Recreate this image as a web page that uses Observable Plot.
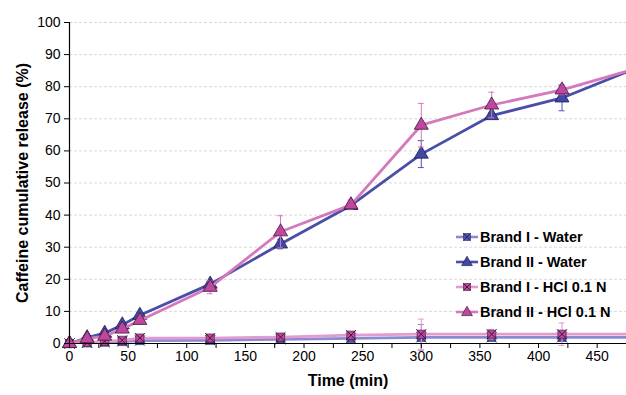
<!DOCTYPE html>
<html>
<head>
<meta charset="utf-8">
<script src="https://cdn.jsdelivr.net/npm/d3@7"></script>
<script src="https://cdn.jsdelivr.net/npm/@observablehq/plot@0.6"></script>
<style>
  html, body { margin: 0; padding: 0; background: #fff; }
  #chart svg { display: block; }
</style>
</head>
<body>
<div id="chart"></div>
<script>
const times = [0, 15, 30, 45, 60, 120, 180, 240, 300, 360, 420, 480];
const seriesNames = ["Brand I - Water", "Brand II - Water", "Brand I - HCl 0.1 N", "Brand II - HCl 0.1 N"];
const brand1Water = [0, 0.2, 0.4, 0.6, 0.9, 1.0, 1.3, 1.6, 1.9, 1.9, 1.9, 1.9];
const brand1WaterSd = [0, 0.1, 0.2, 0.2, 0.3, 0.3, 0.5, 0.7, 4.0, 1.0, 1.0, 0];
const brand2Water = [0, 1.8, 3.2, 5.8, 8.8, 18.5, 31, 43, 59, 71, 76.5, 85.3];
const brand2WaterSd = [0, 0.3, 0.5, 0.5, 0.8, 1.0, 1.5, 1.0, 4.2, 0.8, 4.0, 0];
const brand1Hcl = [0, 0.3, 0.7, 1.0, 1.7, 1.7, 2.0, 2.6, 2.9, 2.9, 2.9, 2.9];
const brand1HclSd = [0, 0.2, 0.3, 0.3, 0.4, 0.4, 1.0, 0.8, 4.7, 1.5, 3.5, 0];
const brand2Hcl = [0, 1.5, 2.3, 4.5, 7.2, 17.5, 34.8, 43.2, 68, 74.3, 79, 85.3];
const brand2HclSd = [0, 0.3, 0.5, 1.0, 0.8, 2.0, 5.0, 1.5, 6.8, 4.0, 1.5, 0];

const xTicks = d3.range(0, 476, 25);
const yTicks = d3.range(0, 101, 10);

const styles = [
  {line: "#8a8ad2", fill: "#4f55b0", stroke: "#2a2a60", mark: "x"},
  {line: "#4a4ea8", fill: "#4048a6", stroke: "#202050", mark: "tri"},
  {line: "#e39ad0", fill: "#c0479f", stroke: "#401838", mark: "x"},
  {line: "#d479bb", fill: "#c0479f", stroke: "#401838", mark: "tri"}
];
const values = [brand1Water, brand2Water, brand1Hcl, brand2Hcl];
const sds = [brand1WaterSd, brand2WaterSd, brand1HclSd, brand2HclSd];

const rows = [];
seriesNames.forEach((s, i) => {
  times.forEach((t, j) => rows.push({series: s, idx: i, t, v: values[i][j], sd: sds[i][j]}));
});

const marks = [
  Plot.gridY(yTicks.filter(d => d > 0), {stroke: "#d9d9d9", strokeOpacity: 1, strokeDasharray: "3,2"})
];
seriesNames.forEach((s, i) => {
  const d = rows.filter(r => r.idx === i);
  const st = styles[i];
  const eb = d.filter(r => r.sd > 0 && r.t <= 475);
  marks.push(Plot.ruleX(eb, {x: "t", y1: r => r.v - r.sd, y2: r => r.v + r.sd, stroke: st.line, strokeWidth: 1}));
  marks.push(Plot.ruleY(eb, {y: r => r.v + r.sd, x1: r => r.t - 2.5, x2: r => r.t + 2.5, stroke: st.line, strokeWidth: 1}));
  marks.push(Plot.ruleY(eb, {y: r => r.v - r.sd, x1: r => r.t - 2.5, x2: r => r.t + 2.5, stroke: st.line, strokeWidth: 1}));
  marks.push(Plot.line(d, {x: "t", y: "v", stroke: st.line, strokeWidth: 2.8, clip: true}));
  const pts = d.filter(r => r.t <= 475);
  if (st.mark === "tri") {
    marks.push(Plot.dot(pts, {x: "t", y: "v", symbol: "triangle", r: 5.2, fill: st.fill, stroke: st.stroke, strokeWidth: 0.8}));
  } else {
    marks.push(Plot.dot(pts, {x: "t", y: "v", symbol: "square", r: 4.6, fill: st.fill, stroke: st.stroke, strokeWidth: 0.6}));
    marks.push(Plot.dot(pts, {x: "t", y: "v", symbol: "times", r: 4.6, fill: "none", stroke: st.stroke, strokeWidth: 1}));
  }
});
marks.push(
  Plot.ruleX([0], {stroke: "#000", strokeWidth: 1.2}),
  Plot.ruleY([0], {stroke: "#000", strokeWidth: 1.2}),
  Plot.axisY({ticks: yTicks, tickSize: 5, tickPadding: 4, fontSize: 14, label: null}),
  Plot.axisX({ticks: xTicks, tickSize: 5, tickPadding: 3, fontSize: 14, label: null,
    tickFormat: d => d % 50 === 0 ? String(d) : ""}),
  Plot.text(["Caffeine cumulative release (%)"], {frameAnchor: "left", textAnchor: "middle", rotate: -90, dx: -47, fontSize: 16, fontWeight: "bold", fill: "#000"}),
  Plot.text(["Time (min)"], {frameAnchor: "bottom", textAnchor: "middle", dy: 42, fontSize: 16, fontWeight: "bold", fill: "#000"})
);

const chart = Plot.plot({
  width: 626,
  height: 395,
  marginLeft: 69,
  marginRight: 0,
  marginTop: 22,
  marginBottom: 52,
  style: {fontFamily: "'Liberation Sans', Arial, sans-serif", fontSize: "14px", color: "#000", background: "#fff"},
  x: {domain: [0, 475]},
  y: {domain: [0, 100]},
  marks
});

// legend
const svg = d3.select(chart);
const lg = svg.append("g").attr("font-family", "'Liberation Sans', Arial, sans-serif").attr("text-anchor", "start");
const legY = [237, 262, 287, 312];
seriesNames.forEach((s, i) => {
  const st = styles[i];
  const g = lg.append("g").attr("transform", `translate(456,${legY[i]})`);
  g.append("line").attr("x1", 0).attr("x2", 22).attr("y1", 0).attr("y2", 0).attr("stroke", st.line).attr("stroke-width", 2.6);
  if (st.mark === "tri") {
    g.append("path").attr("d", d3.symbol(d3.symbolTriangle, 50)()).attr("transform", "translate(11,0.5)").attr("fill", st.fill).attr("stroke", st.stroke).attr("stroke-width", 0.7);
  } else {
    g.append("rect").attr("x", 7.5).attr("y", -3.5).attr("width", 7).attr("height", 7).attr("fill", st.fill).attr("stroke", st.stroke).attr("stroke-width", 0.6);
    g.append("path").attr("d", "M7.5,-3.5L14.5,3.5M7.5,3.5L14.5,-3.5").attr("stroke", st.stroke).attr("stroke-width", 1);
  }
  g.append("text").attr("x", 24).attr("y", 0).attr("dy", "0.35em").attr("text-anchor", "start").attr("font-size", 14.5).attr("font-weight", "bold").attr("fill", "#000").text(s);
});

document.getElementById("chart").appendChild(chart);
</script>
</body>
</html>
